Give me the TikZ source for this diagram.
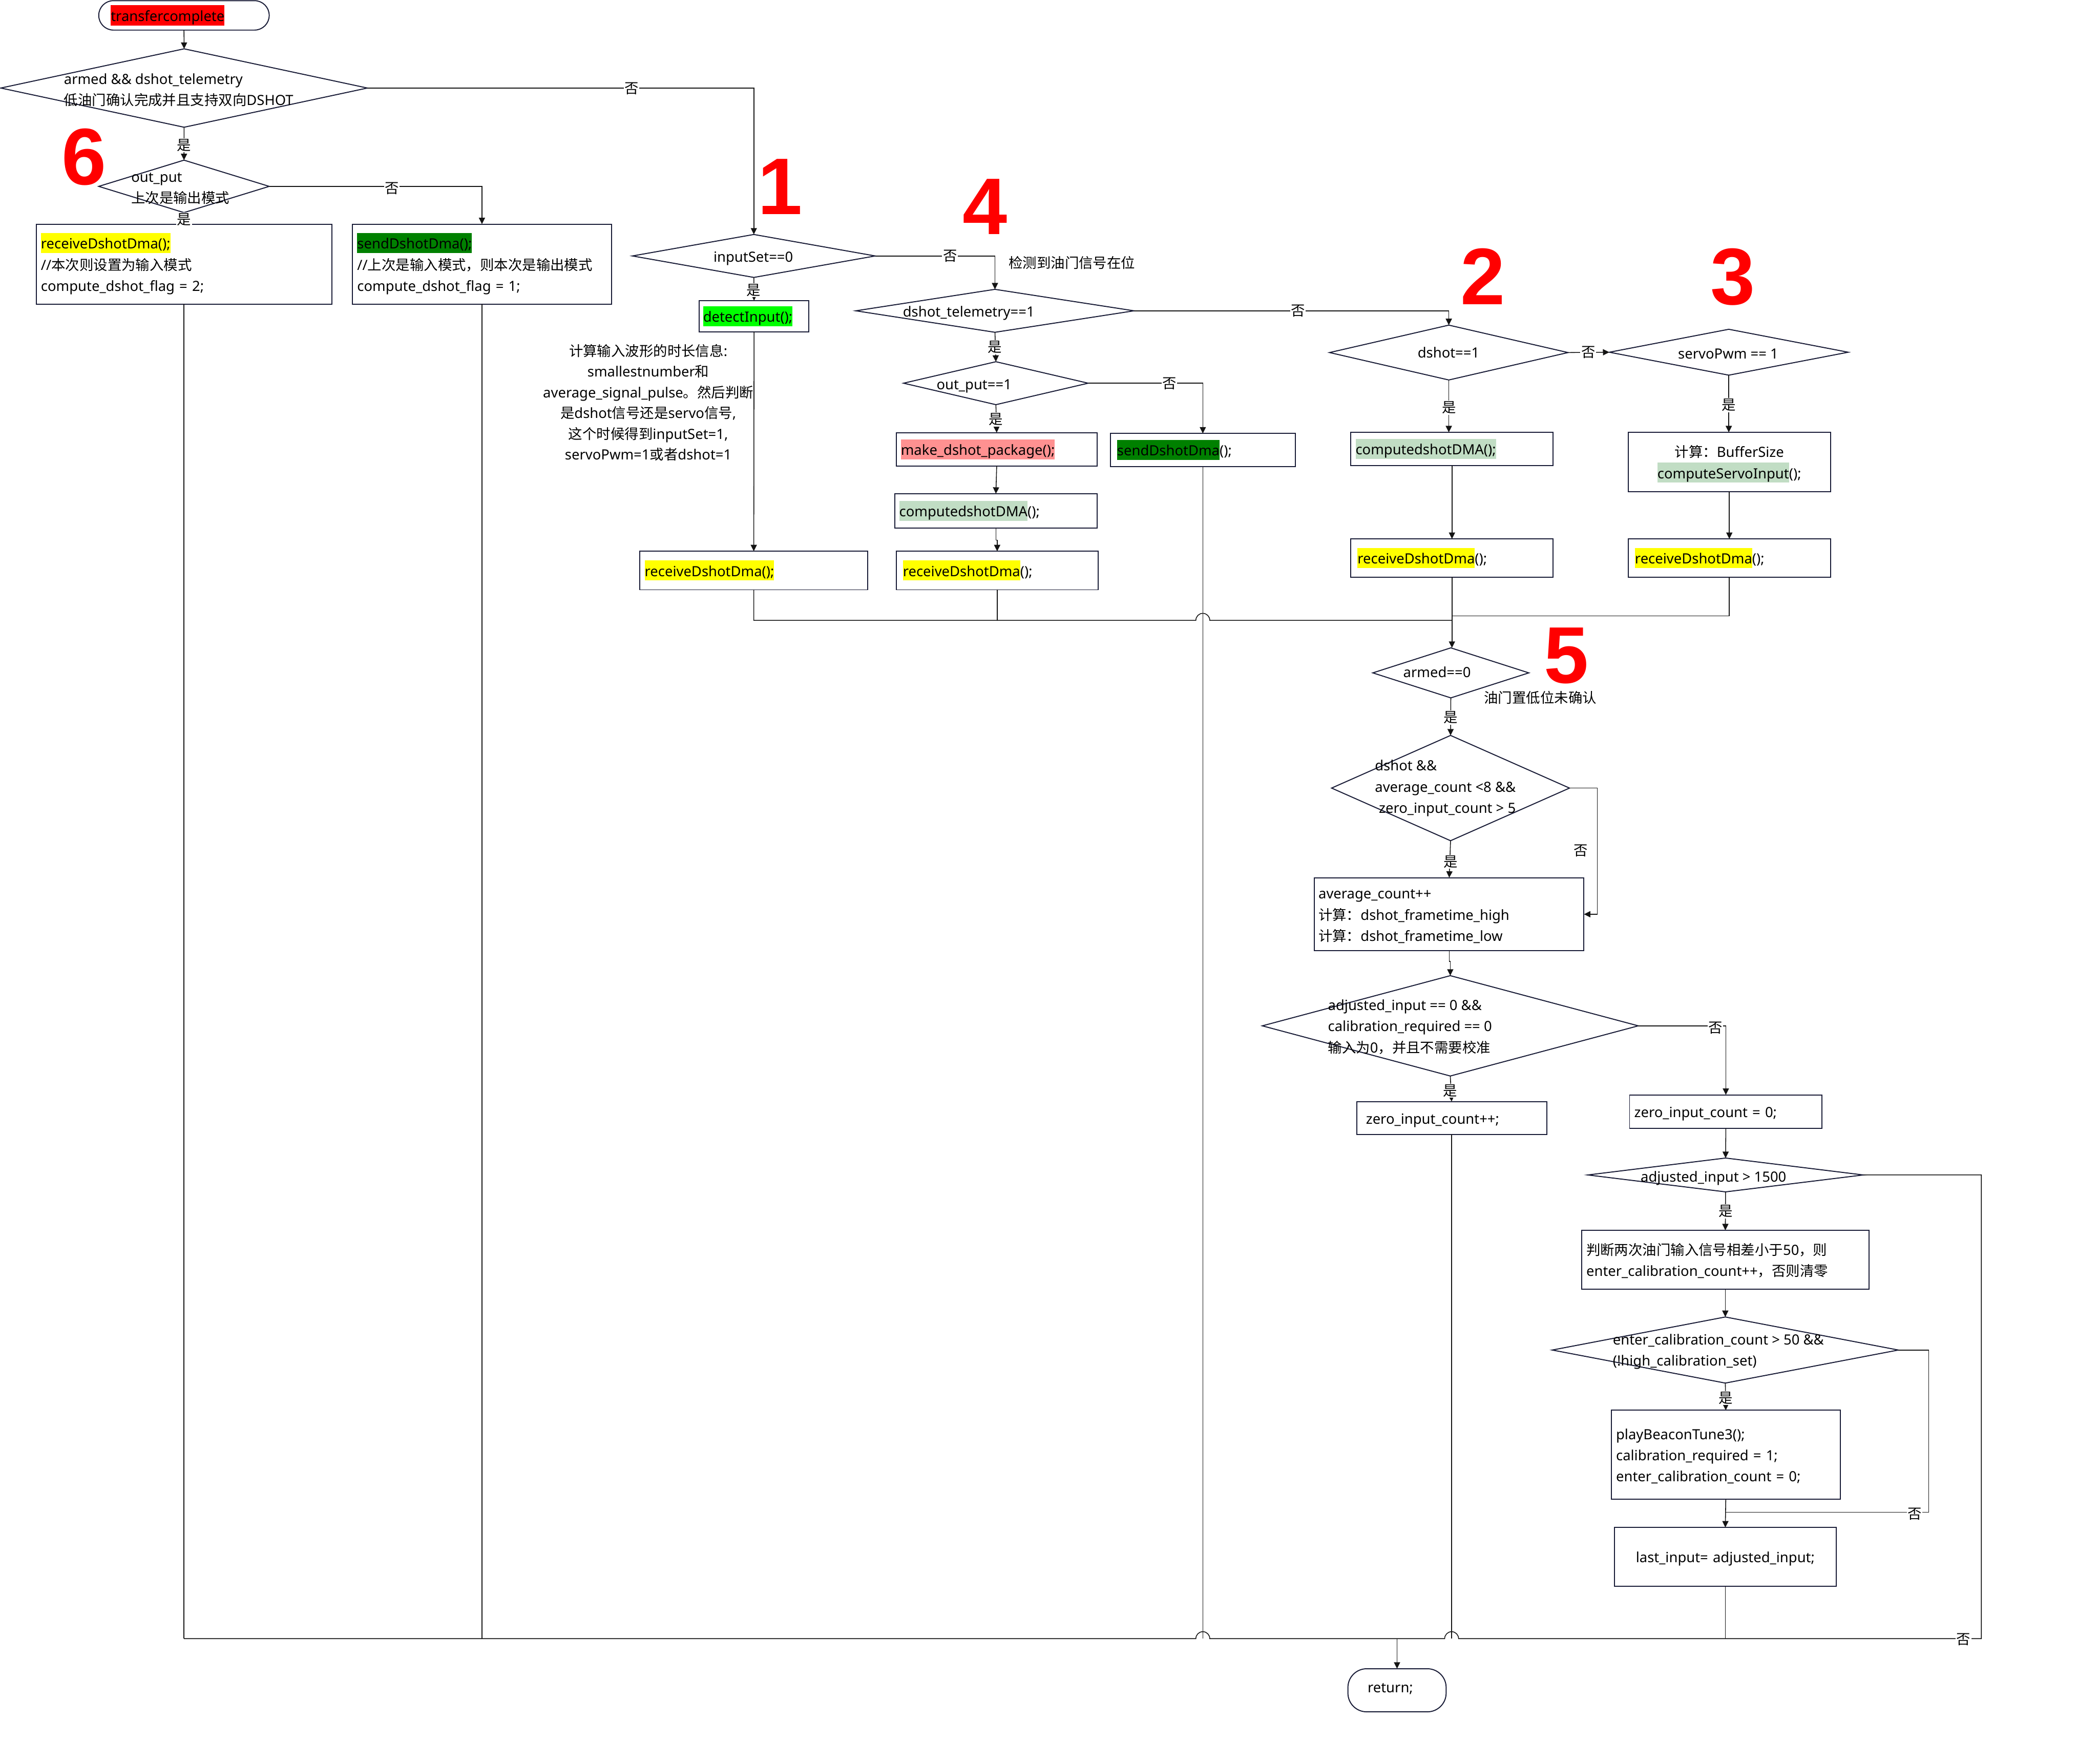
\documentclass[tikz,border=0pt]{standalone}
\usepackage{fontspec}
\setmainfont{Noto Sans}
\newfontfamily\cjkfont{Noto Sans CJK SC}
\newfontfamily\numfont{Liberation Sans}
\usetikzlibrary{shapes.geometric,arrows.meta}
\definecolor{boxc}{RGB}{24,27,54}
\definecolor{linec}{RGB}{20,20,20}
\definecolor{hlred}{RGB}{255,0,0}
\definecolor{hlyel}{RGB}{255,255,0}
\definecolor{hldg}{RGB}{0,128,0}
\definecolor{hlbg}{RGB}{0,255,0}
\definecolor{hlpink}{RGB}{255,145,145}
\definecolor{hllg}{RGB}{193,221,196}
\newcommand\zh[1]{{\cjkfont #1}}
\newcommand\st{\rule[-3.2pt]{0pt}{15pt}}
\newcommand\hl[2]{{\setlength\fboxsep{0pt}\colorbox{#1}{\st#2}}}
\begin{document}
\begin{tikzpicture}[x=1pt,y=-1pt,
  base/.style={font=\fontsize{10.5}{15.8}\selectfont, text=black},
  box/.style={base, draw=boxc, line width=0.75pt, rectangle, outer sep=0pt,
    inner xsep=3.5pt, inner ysep=0pt, align=left, anchor=north west,
    execute at begin node=\st, execute at end node=\st},
  dia/.style={draw=boxc, line width=0.75pt, diamond, inner sep=0pt, outer sep=0pt},
  term/.style={draw=boxc, line width=0.75pt, rectangle, outer sep=0pt, anchor=north west},
  txt/.style={base, inner sep=0pt, align=left,
    execute at begin node=\st, execute at end node=\st},
  note/.style={base, inner sep=0pt, align=left},
  lbl/.style={font=\cjkfont\fontsize{10.5}{12}\selectfont, fill=white, inner sep=0.6pt},
  num/.style={font=\numfont\bfseries\fontsize{60}{60}\selectfont, text=red, anchor=base, inner sep=0pt},
  line/.style={draw=linec, line width=0.6pt},
  arr/.style={line, -{Triangle[length=4.8pt,width=4.6pt]}}
]
\fill[white] (0,0) rectangle (1568,1318.3);
\useasboundingbox (0,0) rectangle (1568,1318.3);

% ---------- terminals ----------
\node[term, rounded corners=11pt, minimum width=127.4pt, minimum height=22pt,
  text width=109.4pt, inner xsep=9pt, inner ysep=0pt, align=left, base,
  execute at begin node=\st] (ts) at (73.8,0.5) {\hl{hlred}{transfercomplete}};
\node[term, rounded corners=14pt, minimum width=73.4pt, minimum height=32.2pt] (ret) at (1007.4,1247.2) {};
\node[txt] (rett) at (1039.1,1260.5) {return;};

% ---------- diamonds ----------
\node[dia, minimum width=274pt, minimum height=58.6pt] (d1) at (137.6,65.8) {};
\node[dia, minimum width=127.4pt, minimum height=39.2pt] (d2) at (137.5,139.3) {};
\node[dia, minimum width=181.5pt, minimum height=32.1pt] (dIn) at (563.4,191.3) {};
\node[dia, minimum width=208pt, minimum height=32.1pt] (dTel) at (743.6,232.3) {};
\node[dia, minimum width=138pt, minimum height=32.1pt] (dOut) at (744.3,286.4) {};
\node[dia, minimum width=178.2pt, minimum height=41pt] (dDs) at (1082.8,263.5) {};
\node[dia, minimum width=178.5pt, minimum height=34.3pt] (dSv) at (1292.05,263.25) {};
\node[dia, minimum width=116.6pt, minimum height=37.4pt] (dArm) at (1084.3,502.9) {};
\node[dia, minimum width=177.8pt, minimum height=78.7pt] (dAvg) at (1084.1,589) {};
\node[dia, minimum width=281pt, minimum height=75pt] (dAdj) at (1083.9,766.7) {};
\node[dia, minimum width=205.9pt, minimum height=25.3pt] (dBig) at (1289.65,878.15) {};
\node[dia, minimum width=258.7pt, minimum height=49.4pt] (dEnt) at (1289.45,1009) {};

% diamond texts
\node[txt, anchor=west] (td1) at (47.6,68.5) {armed \&\& dshot\_telemetry\\\zh{低油门确认完成并且支持双向}DSHOT};
\node[txt, anchor=west] (td2) at (97.9,142) {out\_put\\\zh{上次是输出模式}};
\node[txt] (tIn) at (563,191.5) {inputSet==0};
\node[txt] (tTel) at (724,232.5) {dshot\_telemetry==1};
\node[txt] (tOut) at (728,287) {out\_put==1};
\node[txt] (tDs) at (1082.6,263) {dshot==1};
\node[txt] (tSv) at (1291.6,264) {servoPwm == 1};
\node[txt] (tArm) at (1074,502) {armed==0};
\node[txt, anchor=west] (tAvg) at (1027.4,589.5) {dshot \&\&\\average\_count <8 \&\&\\\hspace*{3pt}zero\_input\_count > 5};
\node[txt, anchor=west] (tAdj) at (992.3,768.5) {adjusted\_input == 0 \&\&\\calibration\_required == 0\\\zh{输入为}0\zh{，并且不需要校准}};
\node[txt] (tBig) at (1280.6,879) {adjusted\_input > 1500};
\node[txt, anchor=west] (tEnt) at (1205.2,1010.5) {enter\_calibration\_count > 50 \&\&\\(!high\_calibration\_set)};

% ---------- boxes ----------
\node[box, minimum height=59.9pt, text width=213.8pt] (boxA) at (27.1,167.5)
  {\hl{hlyel}{receiveDshotDma();}\\//\zh{本次则设置为输入模式}\\compute\_dshot\_flag = 2;};
\node[box, minimum height=59.9pt, text width=186.4pt] (boxB) at (263.5,167.5)
  {\hl{hldg}{sendDshotDma();}\\//\zh{上次是输入模式，则本次是输出模式}\\compute\_dshot\_flag = 1;};
\node[box, minimum height=23.2pt, text width=76.1pt, inner xsep=3pt] (det) at (522.5,224.7) {\hl{hlbg}{detectInput();}};
\node[box, minimum height=28.8pt, text width=163.1pt] (R1) at (478.3,412) {\hl{hlyel}{receiveDshotDma();}};
\node[box, minimum height=24.8pt, text width=143.2pt] (make) at (669.8,323.4) {\hl{hlpink}{make\_dshot\_package();}};
\node[box, minimum height=24.7pt, text width=128.1pt, inner xsep=5pt] (send2) at (829.9,324) {\hl{hldg}{sendDshotDma}();};
\node[box, minimum height=25.7pt, text width=144.4pt] (comp4) at (668.6,369) {\hl{hllg}{computedshotDMA}();};
\node[box, minimum height=28.8pt, text width=140.9pt, inner xsep=5pt] (R4) at (669.8,412) {\hl{hlyel}{receiveDshotDma}();};
\node[box, minimum height=24.8pt, text width=144.1pt] (comp2) at (1009.6,323.1) {\hl{hllg}{computedshotDMA();}};
\node[box, minimum height=28.5pt, text width=141.1pt, inner xsep=5pt] (R2) at (1009.6,402.8) {\hl{hlyel}{receiveDshotDma}();};
\node[box, minimum height=44.5pt, text width=144.1pt, align=center] (buf) at (1216.9,323.1)
  {\zh{计算：}BufferSize\\\hl{hllg}{computeServoInput}();};
\node[box, minimum height=28.5pt, text width=141.1pt, inner xsep=5pt] (R3) at (1216.9,402.8) {\hl{hlyel}{receiveDshotDma}();};
\node[box, minimum height=54.6pt, text width=195.4pt, inner xsep=3pt] (avg) at (982.4,656)
  {average\_count++\\\zh{计算：}dshot\_frametime\_high\\\zh{计算：}dshot\_frametime\_low};
\node[box, minimum height=24.8pt, text width=128pt, inner xsep=7pt] (zpp) at (1013.9,823.3) {zero\_input\_count++;};
\node[box, minimum height=25.1pt, text width=136.9pt] (z0) at (1217.9,818.3) {zero\_input\_count = 0;};
\node[box, minimum height=44.1pt, text width=207.7pt] (judge) at (1182.1,919.5)
  {\zh{判断两次油门输入信号相差小于}50\zh{，则}\\enter\_calibration\_count++\zh{，否则清零}};
\node[box, minimum height=66.5pt, text width=164pt] (beacon) at (1204.3,1054)
  {playBeaconTune3();\\calibration\_required = 1;\\enter\_calibration\_count = 0;};
\node[box, minimum height=44pt, text width=158.7pt, align=center] (last) at (1206.6,1141.6) {last\_input= adjusted\_input;};

% ---------- annotations ----------
\node[note, anchor=west] (a1) at (753.7,196.4) {\zh{检测到油门信号在位}};
\node[note, anchor=west] (a2) at (1109,521.5) {\zh{油门置低位未确认}};
\node[txt, align=center, font=\fontsize{10.5}{15.5}\selectfont] (a3) at (484.5,302)
  {\zh{计算输入波形的时长信息}:\\smallestnumber\zh{和}\\average\_signal\_pulse\zh{。然后判断}\\\zh{是}dshot\zh{信号还是}servo\zh{信号},\\\zh{这个时候得到}inputSet=1,\\servoPwm=1\zh{或者}dshot=1};

% ---------- big red numbers ----------
\node[num] (n6) at (62.9,138) {6};
\node[num] (n1) at (583.2,160.1) {1};
\node[num] (n4) at (736,175.3) {4};
\node[num] (n2) at (1108.3,227.7) {2};
\node[num] (n3) at (1294.9,227.7) {3};
\node[num] (n5) at (1170.6,510.3) {5};

% ---------- helper coordinates ----------
\coordinate (jS) at (1085.15,460.3);
\coordinate (jA) at (893.75,463.6);
\coordinate (jU) at (1085.15,463.6);
\coordinate (jE) at (1289.8,1130.3);
\coordinate (cBR) at (1480.8,1224.7);
\coordinate (jZ2) at (1090.1,1224.7);
\coordinate (jS2) at (904.15,1224.7);
\coordinate (busL) at (137.5,1224.7);

% ---------- connectors ----------
\draw[arr] (ts.south) -- (d1.north);
\draw[arr] (d1.south) -- (d2.north);
\draw[arr] (d1.east) -| (dIn.north);
\draw[arr] (d2.east) -| (boxB.north);
\draw[arr] (d2.south) -- (boxA.north);
\draw[arr] (dIn.south) -- (det.north);
\draw[arr] (det.south) -- (R1.north);
\draw[arr] (dIn.east) -| (dTel.north);
\draw[arr] (dTel.south) -- (dOut.north);
\draw[arr] (dOut.east) -| (send2.north);
\draw[arr] (dOut.south) -- (make.north);
\draw[arr] (make.south) -- (comp4.north);
\draw[arr] (comp4.south) -- ++(0,9) -| (R4.north);
\draw[arr] (dTel.east) -| (dDs.north);
\draw[arr] (dDs.east) -- (dSv.west);
\draw[arr] (dDs.south) -- (dDs.south |- comp2.north);
\draw[arr] (comp2.south) -- (R2.north);
\draw[arr] (dSv.south) -- (dSv.south |- buf.north);
\draw[arr] (buf.south) -- (R3.north);
\draw[arr] (R2.south) -- (R2.south |- dArm.north);
\draw[line] (R3.south) |- (jS);
\draw[line] (R1.south) |- (jA) arc[start angle=180,end angle=0,radius=5.2pt] -- (jU);
\draw[line] (R4.south) -- (R4.south |- jU);
\draw[arr] (dArm.south) -- (dAvg.north);
\draw[arr] (dAvg.east) -- ++(20.8,0) |- (avg.east);
\draw[arr] (dAvg.south) -- (avg.north);
\draw[arr] (avg.south) -- ++(0,8) -| (dAdj.north);
\draw[arr] (dAdj.east) -| (z0.north);
\draw[arr] (dAdj.south) -- (zpp.north);
\draw[arr] (z0.south) -- (dBig.north);
\draw[arr] (dBig.south) -- (judge.north);
\draw[arr] (judge.south) -- (dEnt.north);
\draw[arr] (dEnt.south) -- (beacon.north);
\draw[arr] (beacon.south) -- (last.north);
\draw[line] (dEnt.east) -- ++(22.6,0) |- (jE);
\draw[line] (dBig.east) -| (cBR) -- (jZ2) arc[start angle=0,end angle=180,radius=5.2pt]
  -- (jS2) arc[start angle=0,end angle=180,radius=5.2pt] -- (busL);
\draw[line] (boxA.south) -- (busL);
\draw[line] (boxB.south) -- (boxB.south |- busL);
\draw[line] (send2.south) -- (send2.south |- busL);
\draw[line] (zpp.south) -- (zpp.south |- busL);
\draw[line] (last.south) -- (last.south |- busL);
\draw[arr] (ret.north |- busL) -- (ret.north);

% ---------- yes / no labels ----------
\node[lbl] (l1) at (137.6,108.4) {是};
\node[lbl] (l2) at (472,66) {否};
\node[lbl] (l3) at (292.8,140.8) {否};
\node[lbl] (l4) at (137.6,164.2) {是};
\node[lbl] (l5) at (710,191.5) {否};
\node[lbl] (l6) at (563.3,217) {是};
\node[lbl] (l7) at (743.6,259.6) {是};
\node[lbl] (l8) at (874,286.5) {否};
\node[lbl] (l9) at (744.3,313.5) {是};
\node[lbl] (l10) at (970,232.5) {否};
\node[lbl] (l11) at (1187,263.5) {否};
\node[lbl] (l12) at (1083,304.7) {是};
\node[lbl] (l13) at (1292.1,302.8) {是};
\node[lbl] (l14) at (1084.3,536.3) {是};
\node[lbl] (l15) at (1181.6,635.7) {否};
\node[lbl] (l16) at (1084.3,644) {是};
\node[lbl] (l17) at (1282.1,768.3) {否};
\node[lbl] (l18) at (1083.9,815.1) {是};
\node[lbl] (l19) at (1289.8,905.3) {是};
\node[lbl] (l20) at (1289.8,1044.9) {是};
\node[lbl] (l21) at (1431,1131.4) {否};
\node[lbl] (l22) at (1467.4,1225.4) {否};
\end{tikzpicture}
\end{document}
